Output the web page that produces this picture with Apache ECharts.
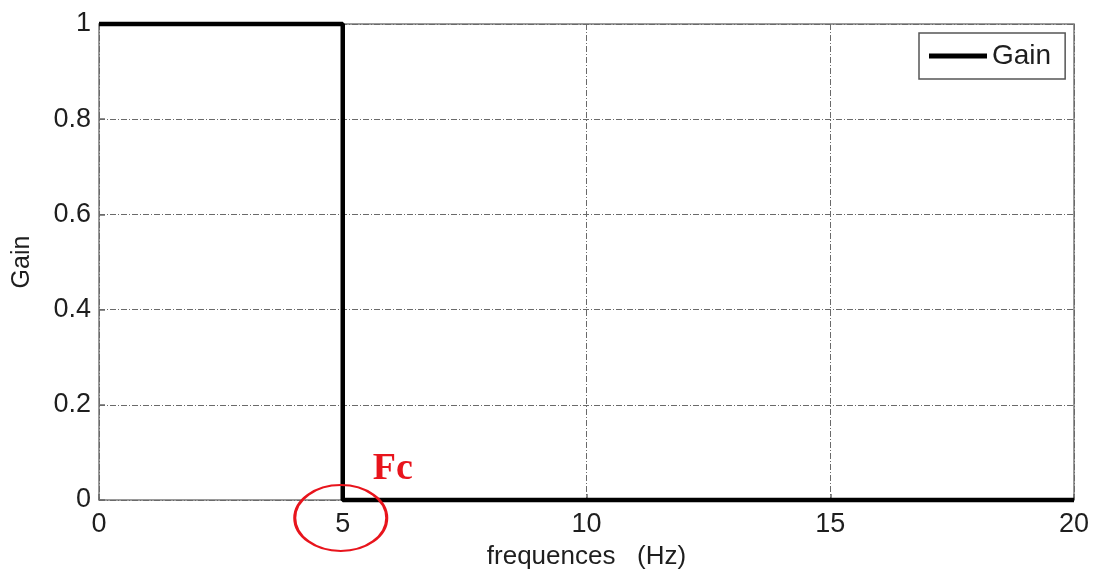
<!DOCTYPE html>
<html>
<head>
<meta charset="utf-8">
<script src="https://cdn.jsdelivr.net/npm/echarts@6/dist/echarts.min.js"></script>
<style>
  html, body { margin: 0; padding: 0; background: #fff; }
  #chart { width: 1098px; height: 575px; }
</style>
</head>
<body>
<div id="chart"></div>
<script>
// Ideal low-pass filter response: gain 1 up to the cutoff, 0 beyond it
const freqs = [0, 5, 5, 20];
const gains = [1, 1, 0, 0];
const cutoff = 5;
const seriesName = 'Gain';
const xName = 'frequences   (Hz)';
const yName = 'Gain';
const cutoffLabel = 'Fc';

const chart = echarts.init(document.getElementById('chart'));
const font = 'Liberation Sans, Arial, sans-serif';
const textColor = '#1e1e1e';
const gridLine = { show: true, lineStyle: { color: '#6a6a6a', width: 1, type: [6, 2, 1, 2] } };
const innerTick = { show: true, inside: true, length: 6, lineStyle: { color: '#6a6a6a', width: 1.5 } };

chart.setOption({
  animation: false,
  backgroundColor: '#ffffff',
  grid: { left: 99, right: 24, top: 24, bottom: 75, show: true, borderColor: '#7a7a7a', borderWidth: 1.5 },
  legend: {
    left: 919, top: 33,
    padding: [9, 14, 9, 10],
    borderColor: '#555', borderWidth: 1.5,
    itemWidth: 58, itemHeight: 5, itemGap: 8,
    textStyle: { fontFamily: font, fontSize: 28, color: textColor },
    data: [{ name: seriesName, icon: 'rect' }]
  },
  xAxis: {
    type: 'value', min: 0, max: 20, interval: 5,
    name: xName, nameLocation: 'middle', nameGap: 44,
    nameTextStyle: { fontFamily: font, fontSize: 26, color: textColor },
    axisLine: { show: false },
    axisTick: innerTick,
    axisLabel: { fontFamily: font, fontSize: 27, color: textColor, margin: 11 },
    splitLine: gridLine
  },
  yAxis: {
    type: 'value', min: 0, max: 1, interval: 0.2,
    name: yName, nameLocation: 'middle', nameGap: 64,
    nameTextStyle: { fontFamily: font, fontSize: 25, color: textColor },
    axisLine: { show: false },
    axisTick: innerTick,
    axisLabel: { fontFamily: font, fontSize: 27, color: textColor, margin: 8 },
    splitLine: gridLine
  },
  series: [{
    name: seriesName,
    type: 'line',
    data: freqs.map((f, i) => [f, gains[i]]),
    symbol: 'none',
    lineStyle: { color: '#000', width: 4.5 },
    itemStyle: { color: '#000' },
    clip: false
  }]
});

// Highlight the cutoff frequency on the axis
const p = chart.convertToPixel({ gridIndex: 0 }, [cutoff, 0]);
chart.setOption({
  graphic: [
    {
      type: 'circle',
      x: p[0] - 2, y: p[1] + 18,
      scaleX: 46 / 33, scaleY: 1,
      shape: { cx: 0, cy: 0, r: 33 },
      style: { fill: 'none', stroke: '#e8141c', lineWidth: 2.2 },
      z: 10
    },
    {
      type: 'text',
      x: p[0] + 30, y: p[1] - 12,
      style: {
        text: cutoffLabel,
        fill: '#e8141c',
        font: 'bold 38px "Liberation Serif", "Times New Roman", serif',
        textAlign: 'left', textVerticalAlign: 'bottom'
      },
      z: 10
    }
  ]
});
</script>
</body>
</html>
